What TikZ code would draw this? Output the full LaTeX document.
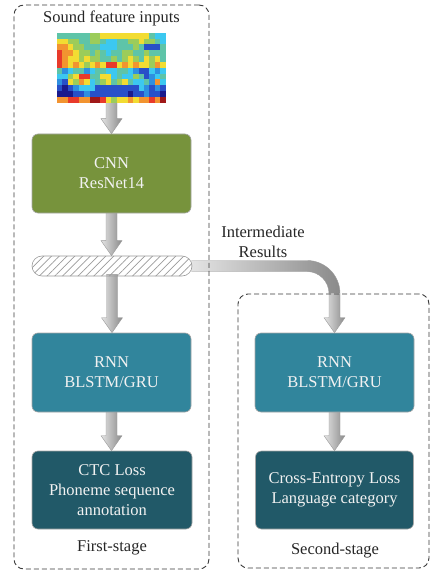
\documentclass[tikz,border=0pt]{standalone}
\usepackage{fontspec}
\setmainfont{Liberation Serif}
\usetikzlibrary{calc,patterns.meta,backgrounds}
\definecolor{cnnG}{HTML}{77933C}
\definecolor{rnnT}{HTML}{31859C}
\definecolor{ctcT}{HTML}{215968}
\definecolor{boxB}{HTML}{A6A6A6}
\definecolor{txtW}{HTML}{F2F2F2}
\definecolor{txtD}{HTML}{262626}
\definecolor{dashC}{HTML}{3A3A3A}
\definecolor{arrL}{HTML}{E4E4E4}
\definecolor{arrR}{HTML}{8A8A8A}
\definecolor{arrB}{HTML}{9A9A9A}
\definecolor{hm0}{HTML}{1A1A8C}
\definecolor{hm1}{HTML}{2850C8}
\definecolor{hm2}{HTML}{2E8FE0}
\definecolor{hm3}{HTML}{3CC8F0}
\definecolor{hm4}{HTML}{5EC4A8}
\definecolor{hm5}{HTML}{9CCC5A}
\definecolor{hm6}{HTML}{F2DC32}
\definecolor{hm7}{HTML}{F29430}
\definecolor{hm8}{HTML}{E83A2A}
\definecolor{hm9}{HTML}{A01818}
\tikzset{
  blk/.style={draw=boxB, line width=0.6pt, rounded corners=6pt, minimum width=159pt,
    minimum height=79pt, text=txtW, align=center, inner sep=0pt,
    font=\fontsize{16.5}{20}\selectfont},
  lbl/.style={text=txtD, align=center, inner sep=0pt, font=\fontsize{16.5}{20}\selectfont},
  stage/.style={draw=dashC, dash pattern=on 5pt off 3pt, line width=0.9pt,
    rounded corners=10pt, inner sep=0pt},
  garrow/.style={left color=arrL, right color=arrR, draw=arrB, line width=0.4pt},
  gfill/.style={left color=arrL, right color=arrR},
}
\newcommand\gdown[2]{%
  \path[garrow] let \p1=(#1.south), \p2=(#2.north) in
    (\x1-5.5pt,\y1+2pt) -- (\x1-5.5pt,\y2+15pt) -- (\x1-10.5pt,\y2+15pt) -- (\x1,\y2)
    -- (\x1+10.5pt,\y2+15pt) -- (\x1+5.5pt,\y2+15pt) -- (\x1+5.5pt,\y1+2pt) -- cycle;}
\begin{document}
\begin{tikzpicture}[x=1pt,y=1pt]
\useasboundingbox (0,0) rectangle (430,-572);
% stages
\node[stage, minimum width=195pt, minimum height=564pt] (stage1) at (111.5,-287) {};
\node[stage, minimum width=191pt, minimum height=274pt] (stage2) at (333.5,-431) {};
% title
\node[lbl] (title) at (111.5,-18) {Sound feature inputs};
% heatmap
\node[minimum width=109pt, minimum height=70pt, inner sep=0pt] (heat) at (111.5,-68) {};
\begin{scope}[shift={(heat.north west)}]
\foreach \row [count=\r] in {
 {4,4,4,4,4,4,5,5,6,6,6,6,6,6,6,6,6,4,3,3},
 {6,6,5,5,4,4,5,5,4,3,3,4,4,5,5,6,5,5,4,3},
 {7,7,6,5,5,4,4,4,3,3,3,4,4,4,5,4,1,1,1,4},
 {8,7,7,6,5,5,4,5,4,3,4,4,5,5,4,4,5,4,4,4},
 {8,7,6,6,5,6,5,5,4,4,5,4,5,6,5,4,6,5,6,4},
 {8,7,6,7,6,5,6,7,6,8,8,6,7,6,7,6,6,5,7,6},
 {4,2,3,4,4,2,3,4,4,3,3,4,4,3,2,1,1,3,2,3},
 {3,3,5,6,8,8,4,4,6,6,3,4,3,3,5,4,1,2,3,4},
 {2,1,6,5,7,6,3,4,5,6,4,5,6,4,3,3,4,2,7,3},
 {1,0,1,2,3,3,3,1,1,1,1,1,1,1,1,3,2,1,2,1},
 {0,0,0,1,1,2,1,1,1,1,1,1,1,0,1,1,2,1,1,0},
 {7,7,8,8,7,7,9,9,8,6,5,6,6,7,6,7,7,8,7,9}} {
  \foreach \v [count=\c] in \row {
    \fill[hm\v] ({(\c-1)*5.45},{-(\r-1)*5.8333}) rectangle ++(5.5,-5.9);
  }
}
\end{scope}
% boxes
\node[blk, fill=cnnG] (cnn) at (111.5,-173.5) {CNN\\ResNet14};
\node[draw=arrB, line width=0.6pt, rounded corners=10pt, minimum width=160pt, minimum height=20pt,
  inner sep=0pt, pattern={Lines[angle=45,distance=5.5pt,line width=0.7pt]}, pattern color=arrB]
  (bar) at (112,-266) {};
\node[blk, fill=rnnT] (rnn1) at (111.5,-372.5) {RNN\\BLSTM/GRU};
\node[blk, fill=ctcT, minimum width=160pt, minimum height=78pt] (ctc) at (112,-490)
  {CTC Loss\\Phoneme sequence\\annotation};
\node[lbl] (first) at (112,-548) {First-stage};
\node[blk, fill=rnnT] (rnn2) at (334.5,-372.5) {RNN\\BLSTM/GRU};
\node[blk, fill=ctcT, minimum width=158pt, minimum height=78pt] (ce) at (334.5,-490)
  {Cross-Entropy Loss\\Language category};
\node[lbl] (second) at (335,-551) {Second-stage};
\node[lbl] (inter) at (263,-242) {Intermediate\\Results};
% arrows
\begin{scope}[on background layer]
\gdown{heat}{cnn}
\gdown{cnn}{bar}
\gdown{bar}{rnn1}
\gdown{rnn1}{ctc}
\gdown{rnn2}{ce}
% curved arrow
\path[gfill] let \p1=(bar.east), \p2=(rnn2.north) in
  (\x1-1pt,\y1+5.5pt) -- (\x2-27.5pt,\y1+5.5pt) arc[start angle=90,end angle=0,radius=33pt]
  -- (\x2-5.5pt,\y1-27.5pt) arc[start angle=0,end angle=90,radius=22pt]
  -- (\x1-1pt,\y1-5.5pt) -- cycle;
\path[gfill] let \p1=(bar.east), \p2=(rnn2.north) in
  (\x2+5.5pt,\y1-27.6pt) -- (\x2+5.5pt,\y2+15pt) -- (\x2+10.5pt,\y2+15pt) -- (\x2,\y2)
  -- (\x2-10.5pt,\y2+15pt) -- (\x2-5.5pt,\y2+15pt) -- (\x2-5.5pt,\y1-27.6pt) -- cycle;
\draw[arrB, line width=0.4pt] let \p1=(bar.east), \p2=(rnn2.north) in
  (\x1-1pt,\y1+5.5pt) -- (\x2-27.5pt,\y1+5.5pt) arc[start angle=90,end angle=0,radius=33pt]
  -- (\x2+5.5pt,\y2+15pt) -- (\x2+10.5pt,\y2+15pt) -- (\x2,\y2)
  -- (\x2-10.5pt,\y2+15pt) -- (\x2-5.5pt,\y2+15pt) -- (\x2-5.5pt,\y1-27.5pt)
  arc[start angle=0,end angle=90,radius=22pt] -- (\x1-1pt,\y1-5.5pt);
\end{scope}
\end{tikzpicture}
\end{document}
